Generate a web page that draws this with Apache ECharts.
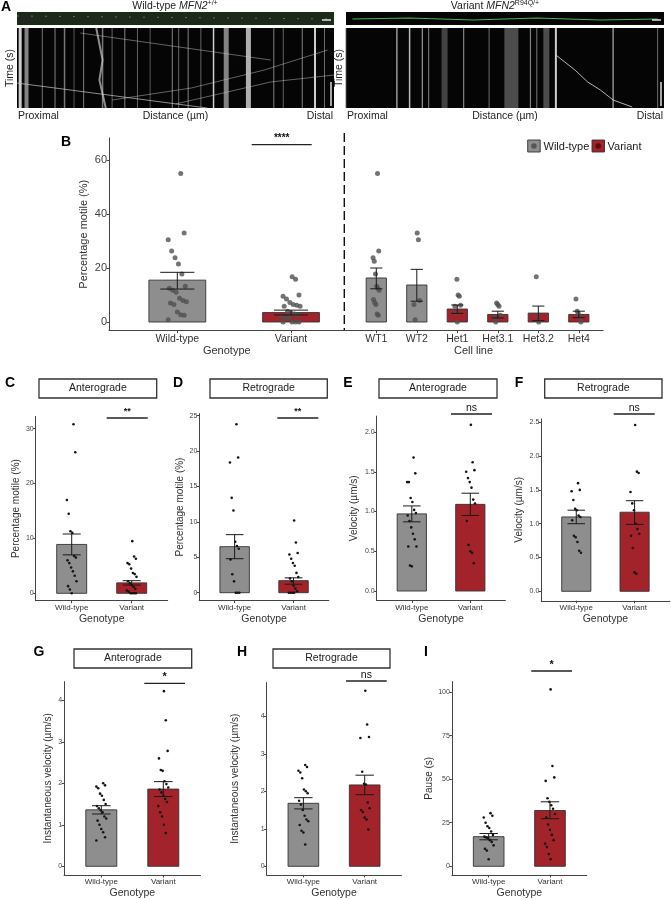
<!DOCTYPE html>
<html><head><meta charset="utf-8">
<script src="https://cdn.jsdelivr.net/npm/echarts@6/dist/echarts.min.js"></script>
<style>html,body{margin:0;padding:0;background:#fff}#c{width:671px;height:900px}</style>
</head><body><div id="c"></div>
<script>
// ---------- DATA ----------
const genotypes = ['Wild-type', 'Variant'];
const cellLines = ['WT1', 'WT2', 'Het1', 'Het3.1', 'Het3.2', 'Het4'];
const cellGroup = [0, 0, 1, 1, 1, 1];

// B: percentage motile by genotype
const bMeans = [15.5, 3.5], bLo = [12.2, 2.6], bHi = [18.4, 4.4];
const bWT = [55, 33, 30.5, 26.3, 23.8, 21.5, 17.8, 13.2, 12.5, 11.8, 11, 8.8, 8, 7.5, 7, 6.5, 3.7, 2.7, 2.5, 0.8];
const bVar = [16.8, 15.8, 10, 9.5, 8.5, 7.2, 6.5, 6.2, 5.8, 5.8, 4, 3.3, 3, 2.5, 2, 1.5, 1.5, 0, 0, 0, 0];
// B: by cell line
const cellMeans = [16.3, 13.7, 4.8, 2.8, 3.3, 2.8];
const cellLo = [12.3, 7.7, 3.2, 1.5, 0.5, 1.6];
const cellHi = [20.0, 19.5, 6.3, 4.0, 5.9, 4.0];
const ptsWT1 = [55, 26.3, 23.8, 22.5, 17.8, 13.2, 12.5, 11.8, 8.3, 7.2, 6.5, 3.0, 2.5];
const ptsWT2 = [33, 30.5, 8, 6.5, 0.8];
const ptsHet1 = [15.8, 10, 9.5, 6.2, 5.8, 3.3, 0];
const ptsHet31 = [7, 6.5, 5.8, 2.5, 1.5, 0];
const ptsHet32 = [16.8, 2, 0];
const ptsHet4 = [8.5, 4, 3, 1.5, 0];

// C: anterograde % motile
const cMeans = [8.9, 1.9], cLo = [7.0, 1.5], cHi = [10.8, 2.3];
const cWT = [30.8, 25.7, 17, 14.5, 11.3, 11, 6.8, 6.5, 6, 5.5, 4.7, 4, 3.2, 2.2, 1.3, 0.7, 0];
const cVar = [9.5, 6.7, 6.3, 5.5, 5.3, 4.5, 3.7, 3.5, 3.0, 2.2, 1.8, 1.5, 1.2, 0.8, 0.5, 0.3, 0, 0, 0, 0];
// D: retrograde % motile
const dMeans = [6.5, 1.7], dLo = [4.8, 1.2], dHi = [8.2, 2.1];
const dWT = [23.8, 19.1, 18.4, 13.4, 11.6, 7.2, 6.6, 6.2, 4.7, 2.6, 1.6, 0, 0, 0];
const dVar = [10.2, 7.1, 5.6, 5.4, 4.8, 4.2, 3.8, 2.8, 2.2, 2.0, 1.6, 1.0, 0.6, 0.2, 0, 0, 0, 0];
// E: anterograde velocity
const eMeans = [0.97, 1.09], eLo = [0.87, 0.95], eHi = [1.07, 1.23];
const eWT = [1.68, 1.48, 1.37, 1.37, 1.17, 1.12, 1.02, 0.98, 0.95, 0.88, 0.8, 0.72, 0.65, 0.56, 0.56, 0.32, 0.31];
const eVar = [2.09, 1.62, 1.52, 1.5, 1.42, 1.37, 1.3, 1.15, 1.1, 0.88, 0.58, 0.5, 0.48, 0.35];
// F: retrograde velocity
const fMeans = [1.10, 1.17], fLo = [1.00, 0.99], fHi = [1.20, 1.34];
const fWT = [1.6, 1.5, 1.48, 1.35, 1.22, 1.2, 1.12, 1.1, 1.05, 0.82, 0.8, 0.73, 0.6, 0.57];
const fVar = [2.46, 1.77, 1.75, 1.47, 1.3, 1.2, 1.0, 0.92, 0.85, 0.82, 0.64, 0.28, 0.26];
// G: anterograde instantaneous velocity
const gMeans = [1.36, 1.86], gLo = [1.26, 1.68], gHi = [1.46, 2.04];
const gWT = [2.0, 1.95, 1.92, 1.88, 1.75, 1.7, 1.6, 1.5, 1.45, 1.4, 1.35, 1.3, 1.2, 1.15, 1.1, 1.0, 0.9, 0.82, 0.7, 0.62];
const gVar = [4.22, 3.52, 2.78, 2.6, 2.32, 2.3, 2.05, 1.98, 1.9, 1.85, 1.78, 1.7, 1.62, 1.55, 1.45, 1.3, 1.2, 1.0, 0.8];
// H: retrograde instantaneous velocity
const hMeans = [1.68, 2.17], hLo = [1.53, 1.91], hHi = [1.83, 2.43];
const hWT = [2.7, 2.65, 2.55, 2.5, 2.35, 2.05, 2.0, 1.95, 1.75, 1.65, 1.5, 1.35, 1.25, 1.2, 1.1, 0.95, 0.9, 0.58];
const hVar = [4.68, 3.78, 3.45, 3.42, 2.52, 2.2, 2.18, 1.7, 1.55, 1.5, 1.45, 1.3, 1.25, 0.98];
// I: pause
const iMeans = [17, 32], iLo = [15.2, 27.3], iHi = [18.8, 37];
const iWT = [30.5, 29, 28, 25, 23, 22, 20, 18, 17, 16.5, 16, 15, 14, 12, 10, 9, 4];
const iVar = [101.5, 57.5, 51, 49, 39, 37, 35, 33, 30, 28, 24, 21, 18, 15, 13, 11, 7, 4];

const yTicksB = [0, 20, 40, 60];
const yTicksC = [0, 10, 20, 30];
const yTicksD = [0, 5, 10, 15, 20, 25];
const yTicksE = [0, 0.5, 1.0, 1.5, 2.0];
const yTicksF = [0, 0.5, 1.0, 1.5, 2.0, 2.5];
const yTicksGH = [0, 1, 2, 3, 4];
const yTicksI = [0, 25, 50, 75, 100];

// ---------- LAYOUT ----------
const FONT = "'Liberation Sans Narrow','Liberation Sans',Arial,sans-serif";
const FONTW = "'Liberation Sans',Arial,sans-serif";
const GRAY = '#8e8e8e', RED = '#a3232b';
const cols = [GRAY, RED];

const panels = [
  {id:'Bl', cats:genotypes, means:bMeans, lo:bLo, hi:bHi, groups:[0,1], pts:[bWT,bVar], ticks:yTicksB,
   left:109.1, s:113.7, xmin:-0.6, xmax:1.47, y0:322, ppu:2.7, ymin:-3.2, ymax:68.2, big:true,
   yname:'Percentage motile (%)', ygap:20, xname:'Genotype', xgap:15},
  {id:'Br', cats:cellLines, means:cellMeans, lo:cellLo, hi:cellHi, groups:cellGroup,
   pts:[ptsWT1, ptsWT2, ptsHet1, ptsHet31, ptsHet32, ptsHet4], ticks:yTicksB,
   left:343.9, s:40.5, xmin:-0.8, xmax:5.6, y0:322, ppu:2.7, ymin:-3.2, ymax:68.2, big:true, noY:true,
   xname:'Cell line', xgap:15},
  {id:'C', means:cMeans, lo:cLo, hi:cHi, pts:[cWT,cVar], ticks:yTicksC, left:35.7, s:60, y0:593.3, ppu:5.49, ymin:-1.35, ymax:32.2, yname:'Percentage motile (%)', ygap:14},
  {id:'D', means:dMeans, lo:dLo, hi:dHi, pts:[dWT,dVar], ticks:yTicksD, left:199.3, s:58.9, y0:592.7, ppu:7.08, ymin:-1.1, ymax:25.3, yname:'Percentage motile (%)', ygap:14},
  {id:'E', means:eMeans, lo:eLo, hi:eHi, pts:[eWT,eVar], ticks:yTicksE, left:376.7, s:58.5, y0:591, ppu:79.5, ymin:-0.12, ymax:2.2, yname:'Velocity (µm/s)', ygap:17, dec:1},
  {id:'F', means:fMeans, lo:fLo, hi:fHi, pts:[fWT,fVar], ticks:yTicksF, left:541.3, s:58.3, y0:591.3, ppu:67.6, ymin:-0.14, ymax:2.55, yname:'Velocity (µm/s)', ygap:17, dec:1},
  {id:'G', means:gMeans, lo:gLo, hi:gHi, pts:[gWT,gVar], ticks:yTicksGH, left:64.1, s:62, y0:866.3, ppu:41.5, ymin:-0.21, ymax:4.45, yname:'Instantaneous velocity (µm/s)', ygap:11},
  {id:'H', means:hMeans, lo:hLo, hi:hHi, pts:[hWT,hVar], ticks:yTicksGH, left:266.6, s:61.3, y0:866.3, ppu:37.5, ymin:-0.23, ymax:4.9, yname:'Instantaneous velocity (µm/s)', ygap:26},
  {id:'I', means:iMeans, lo:iLo, hi:iHi, pts:[iWT,iVar], ticks:yTicksI, left:451.9, s:61.3, y0:866.3, ppu:1.743, ymin:-5, ymax:106, yname:'Pause (s)', ygap:15}
];

const grid = [], xAxis = [], yAxis = [], series = [];
const jit = i => ((((i * 37 + 11) % 17) / 16) - 0.5) * 0.16;

panels.forEach((p, k) => {
  const cats = p.cats || genotypes;
  const groups = p.groups || [0, 1];
  const big = !!p.big;
  if (p.xmin === undefined) { p.xmin = -0.6; p.xmax = 1.6; }
  const left = p.left, width = (p.xmax - p.xmin) * p.s;
  const top = p.y0 - p.ymax * p.ppu, height = (p.ymax - p.ymin) * p.ppu;
  grid.push({left, top, width, height, containLabel:false});
  const idx = cats.map((_, i) => i);
  xAxis.push({type:'value', gridIndex:k, min:p.xmin, max:p.xmax, splitLine:{show:false},
    axisLine:{show:true, onZero:false, lineStyle:{color:'#444', width:1}},
    axisTick:{show:true, customValues:idx, length:2.5, lineStyle:{color:'#444'}},
    axisLabel:{customValues:idx, formatter:v => cats[Math.round(v)], margin:3,
      fontSize: big ? 10.5 : 8, color:'#333', fontFamily: big ? FONTW : FONT},
    name: p.xname || 'Genotype', nameLocation:'middle', nameGap: p.xgap || 13,
    nameTextStyle:{fontSize: big ? 11 : 10.5, color:'#333', fontFamily:FONTW}});
  yAxis.push({type:'value', gridIndex:k, min:p.ymin, max:p.ymax, splitLine:{show:false}, show:!p.noY,
    axisLine:{show:true, onZero:false, lineStyle:{color:'#444', width:1}},
    axisTick:{show:true, customValues:p.ticks, length:2.5, lineStyle:{color:'#444'}},
    axisLabel:{customValues:p.ticks, margin:2, fontSize: big ? 11 : 7, color:'#444', fontFamily:FONT,
      formatter:v => p.dec ? v.toFixed(p.dec) : String(v)},
    name:p.yname || '', nameLocation:'middle', nameGap:p.ygap || 15,
    nameTextStyle:{fontSize: big ? 11 : 10, color:'#333', fontFamily:FONTW}});

  const barData = p.means.map((m, i) => [i, m, p.lo[i], p.hi[i], groups[i]]);
  series.push({type:'custom', xAxisIndex:k, yAxisIndex:k, z:1, data:barData, silent:true,
    renderItem:(params, api) => {
      const x = api.value(0), m = api.value(1), g = api.value(4);
      const a = api.coord([x - 0.25, m]), b = api.coord([x + 0.25, 0]);
      return {type:'rect', shape:{x:a[0], y:a[1], width:b[0]-a[0], height:b[1]-a[1]},
        style:{fill:cols[g], stroke:'#333', lineWidth:0.9}};
    }});
  const pts = [];
  p.pts.forEach((arr, ci) => arr.forEach((v, i) => pts.push([ci + jit(i + ci * 5), v])));
  series.push({type:'scatter', xAxisIndex:k, yAxisIndex:k, z:2, data:pts, silent:true,
    symbolSize: big ? 5 : 2.6,
    itemStyle:{color: big ? '#505050' : '#151515', opacity: big ? 0.8 : 1}});
  series.push({type:'custom', xAxisIndex:k, yAxisIndex:k, z:3, data:barData, silent:true,
    renderItem:(params, api) => {
      const x = api.value(0), lo = api.value(2), hi = api.value(3);
      const l = api.coord([x, lo]), h = api.coord([x, hi]);
      const w = api.coord([x + 0.15, 0])[0] - l[0];
      const st = {stroke:'#1a1a1a', lineWidth:1};
      return {type:'group', children:[
        {type:'line', shape:{x1:l[0], y1:l[1], x2:h[0], y2:h[1]}, style:st},
        {type:'line', shape:{x1:l[0]-w, y1:l[1], x2:l[0]+w, y2:l[1]}, style:st},
        {type:'line', shape:{x1:h[0]-w, y1:h[1], x2:h[0]+w, y2:h[1]}, style:st}]};
    }});
});

// ---------- decorations ----------
const graphic = [];
const txt = (x, y, t, o) => graphic.push(Object.assign({type:'text', x, y, style:Object.assign({text:t, fill:'#222', font:'11px ' + FONTW, textAlign:'center', textVerticalAlign:'middle'}, o || {})}));
[['A',6,7],['B',66,142],['C',10,383],['D',178,383],['E',348,383],['F',519,383],['G',39,652],['H',242,652],['I',426,652]]
  .forEach(([t,x,y]) => txt(x, y, t, {font:'bold 14px ' + FONTW, fill:'#000'}));
[['Anterograde',39,156.7,379],['Retrograde',210,327.3,379],['Anterograde',379,497,379],['Retrograde',544.7,662,379],
 ['Anterograde',74,191.7,649],['Retrograde',273,390,649]].forEach(([t,x1,x2,y]) => {
  graphic.push({type:'rect', shape:{x:x1, y:y, width:x2-x1, height:19}, style:{fill:'#fff', stroke:'#333', lineWidth:1.3}});
  txt((x1+x2)/2, y + 9.5, t, {font:'10.5px ' + FONT, fill:'#222'});
});
[['****',251.7,311.7,144.7,'bold 10px'],['**',106.7,147.7,418,'bold 9px'],['**',277.3,318.3,418,'bold 9px'],
 ['ns',451,492,414,'10.5px'],['ns',613.7,654.7,414,'10.5px'],['*',144.3,185,683.3,'bold 11px'],
 ['ns',346,386.7,681,'10.5px'],['*',531.3,572,671,'bold 11px']].forEach(([t,x1,x2,y,f]) => {
  graphic.push({type:'line', shape:{x1, y1:y, x2, y2:y}, style:{stroke:'#222', lineWidth:1.3}});
  txt((x1+x2)/2, y - 6, t, {font:f + ' ' + FONT, fill:'#111'});
});
graphic.push({type:'line', shape:{x1:344.3, y1:133, x2:344.3, y2:331}, style:{stroke:'#111', lineWidth:1.4, lineDash:[9,4]}});
[[527.7,GRAY,'Wild-type',543.5,'#555'],[592,RED,'Variant',607.5,'#5a0d10']].forEach(([x,c,t,tx,dc]) => {
  graphic.push({type:'rect', shape:{x, y:140, width:12.5, height:12}, style:{fill:c, stroke:'#333', lineWidth:0.9}});
  graphic.push({type:'circle', shape:{cx:x+6.25, cy:146, r:2.8}, style:{fill:dc}});
  txt(tx, 146.5, t, {font:'11px ' + FONTW, textAlign:'left', fill:'#222'});
});

// panel A kymographs (image-like decoration)
const kymoLeftLines = [[0.01,0.95,3],[0.03,0.6,4],[0.08,0.45,1.2],[0.12,0.5,1.2],[0.15,0.55,1.5],[0.18,0.4,1],[0.21,0.5,1.2],[0.27,0.55,1.5],[0.3,0.45,1],[0.34,0.5,1.2],[0.38,0.45,1],[0.42,0.4,1],[0.49,0.5,1.2],[0.51,0.45,1],[0.54,0.5,1.2],[0.58,0.45,1],[0.62,0.95,1.5],[0.66,0.6,5],[0.73,0.8,5],[0.81,0.5,1.2],[0.84,0.45,1],[0.9,0.5,1.2],[0.94,0.95,2],[0.97,0.5,1]];
const kymoRightLines = [[0.0,0.4,1],[0.16,0.7,1.5],[0.2,0.85,1.5],[0.24,0.7,1.2],[0.26,0.6,1],[0.31,0.3,6],[0.37,0.6,1.2],[0.45,0.5,1],[0.52,0.35,14],[0.58,0.6,1.2],[0.6,0.55,1],[0.63,0.35,6],[0.66,0.95,2],[0.84,0.65,1.5],[0.98,0.5,1]];
function kymo(x0, x1, lines, right) {
  const W = x1 - x0;
  graphic.push({type:'rect', shape:{x:x0, y:12, width:W, height:13}, style:{fill: right ? '#050505' : '#1c2a1a'}});
  graphic.push({type:'rect', shape:{x:x0, y:28, width:W, height:80}, style:{fill:'#050505'}});
  lines.forEach(([f,b,w]) => {
    const g = Math.round(b * 255);
    graphic.push({type:'line', shape:{x1:x0+f*W, y1:28, x2:x0+f*W, y2:108}, style:{stroke:`rgba(${g},${g},${g},0.85)`, lineWidth:w}});
  });
  if (!right) {
    graphic.push({type:'polyline', shape:{points:[[x0,83],[x0+0.6*W,108]]}, style:{stroke:'rgba(200,200,200,0.7)', lineWidth:1}});
    graphic.push({type:'polyline', shape:{points:[[x0+0.25*W,28],[x0+0.27*W,60],[x0+0.26*W,80],[x0+0.28*W,108]]}, style:{stroke:'rgba(200,200,200,0.7)', lineWidth:2}});
    graphic.push({type:'polyline', shape:{points:[[x0+0.2*W,33],[x0+0.8*W,60]]}, style:{stroke:'rgba(200,200,200,0.6)', lineWidth:0.8}});
    graphic.push({type:'polyline', shape:{points:[[x0+0.3*W,100],[x0+0.55*W,88],[x0+0.78*W,70],[x0+0.98*W,50]]}, style:{stroke:'rgba(200,200,200,0.6)', lineWidth:0.8}});
    graphic.push({type:'polyline', shape:{points:[[x0+0.5*W,104],[x0+0.8*W,82],[x0+W,75]]}, style:{stroke:'rgba(200,200,200,0.6)', lineWidth:0.8}});
    graphic.push({type:'polyline', shape:{points:[[x0,16],[x0+W,19]]}, style:{stroke:'rgba(200,120,200,0.6)', lineWidth:1, lineDash:[2,12]}});
  } else {
    graphic.push({type:'polyline', shape:{points:[[x0+0.66*W,55],[x0+0.72*W,70],[x0+0.76*W,82],[x0+0.8*W,90],[x0+0.84*W,100],[x0+0.9*W,107]]}, style:{stroke:'rgba(220,220,220,0.8)', lineWidth:1}});
    graphic.push({type:'polyline', shape:{points:[[x0+0.02*W,19],[x0+0.2*W,18],[x0+0.4*W,20],[x0+0.6*W,18],[x0+0.8*W,20],[x0+0.98*W,19]]}, style:{stroke:'rgba(80,200,90,0.9)', lineWidth:1.2}});
  }
  graphic.push({type:'line', shape:{x1:x1-12, y1:20, x2:x1-3, y2:20}, style:{stroke:'#fff', lineWidth:1.3}});
  graphic.push({type:'line', shape:{x1:x1-3, y1:82, x2:x1-3, y2:106}, style:{stroke:'#fff', lineWidth:1.3}});
  txt(x0 + 1, 116, 'Proximal', {textAlign:'left', font:'10.5px ' + FONT});
  txt(x1 - 1, 116, 'Distal', {textAlign:'right', font:'10.5px ' + FONT});
  txt((x0+x1)/2, 116, 'Distance (µm)', {font:'10.5px ' + FONT});
  graphic.push({type:'text', x:x0 - 7, y:68, rotation:Math.PI/2, style:{text:'Time (s)', font:'10.5px ' + FONT, fill:'#222', textAlign:'center', textVerticalAlign:'middle'}});
}
kymo(17, 334, kymoLeftLines, false);
kymo(346, 664, kymoRightLines, true);
graphic.push({type:'text', x:175, y:6, style:{text:'{n|Wild-type }{i|MFN2}{s|+/+}', textAlign:'center', textVerticalAlign:'middle',
  rich:{n:{font:'10.5px ' + FONT, fill:'#222'}, i:{font:'italic 10.5px ' + FONT, fill:'#222'}, s:{font:'7px ' + FONT, fill:'#222', verticalAlign:'top', padding:[0,0,5,0]}}}});
graphic.push({type:'text', x:495, y:6, style:{text:'{n|Variant }{i|MFN2}{s|R94Q/+}', textAlign:'center', textVerticalAlign:'middle',
  rich:{n:{font:'10.5px ' + FONT, fill:'#222'}, i:{font:'italic 10.5px ' + FONT, fill:'#222'}, s:{font:'7px ' + FONT, fill:'#222', verticalAlign:'top', padding:[0,0,5,0]}}}});

const chart = echarts.init(document.getElementById('c'), null, {renderer:'canvas'});
chart.setOption({animation:false, backgroundColor:'#fff', grid, xAxis, yAxis, series, graphic});
</script></body></html>
